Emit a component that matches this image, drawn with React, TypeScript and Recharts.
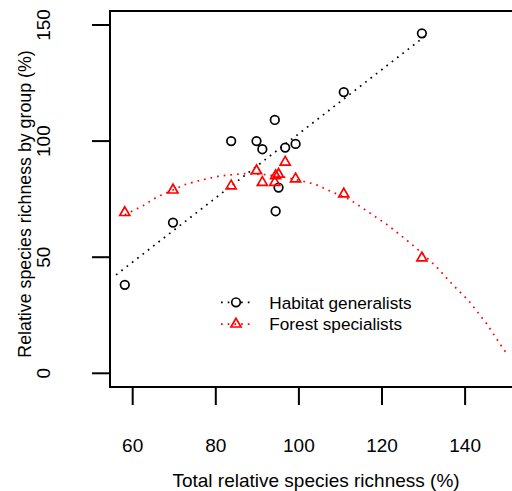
import { ComposedChart, Scatter, XAxis, YAxis, ReferenceArea, Legend, Label } from 'recharts'

// 每个样点的总相对物种丰富度（x），两组共用
const totalRichness = [58.1, 69.7, 83.7, 89.8, 91.2, 94.2, 94.4, 95.1, 96.7, 99.2, 110.8, 129.6]
// 生境广布种（圆圈）
const generalists = [38.1, 64.9, 100.0, 100.0, 96.5, 109.1, 69.8, 80.0, 97.2, 98.8, 121.1, 146.4]
// 森林特化种（三角）
const specialists = [69.2, 78.9, 80.7, 87.2, 82.2, 82.2, 85.1, 85.7, 90.9, 83.7, 77.2, 49.7]

// 广布种的线性拟合线：图上读出的两端
const genFitX = [56.0, 131.1]
const genFitY = [42.4, 146.2]

// 特化种的二次拟合曲线：沿虚线读出的点
const specFitX = [58.1, 59.5, 62.6, 65.8, 72.6, 76.2, 81.0, 85.0, 86.6, 91.8, 97.1, 100.3, 104.1, 107.5, 112.3, 116.7, 121.1, 125.5, 128.4, 133.2, 137.2, 140.8, 145.2, 149.2, 150.0]
const specFitY = [68.3, 69.5, 72.3, 75.9, 81.3, 83.1, 85.0, 85.7, 86.0, 85.6, 84.3, 83.0, 81.3, 78.5, 74.8, 69.5, 64.2, 58.0, 53.7, 45.7, 37.8, 31.4, 21.3, 10.5, 8.6]

const xTicks = [60, 80, 100, 120, 140]
const yTicks = [0, 50, 100, 150]

const X_DOMAIN = [54.54, 153.21]
const Y_DOMAIN = [-5.9, 156.03]

const FONT = '"Liberation Sans", Arial, Helvetica, sans-serif'
const RED = '#FF0000'
const DOTS = '1.7 5'

const genPoints = totalRichness.map((x, i) => ({ x, y: generalists[i] }))
const specPoints = totalRichness.map((x, i) => ({ x, y: specialists[i] }))
const genLine = genFitX.map((x, i) => ({ x, y: genFitY[i] }))
const specLine = specFitX.map((x, i) => ({ x, y: specFitY[i] }))

// R 的 pch=1 空心圆
function CircleMark(p: any) {
  return <circle cx={p.cx} cy={p.cy} r={4.3} fill="none" stroke="#000" strokeWidth={1.7} />
}

// R 的 pch=2 空心三角，(cx, cy) 为重心
function Tri({ cx, cy }: { cx: number; cy: number }) {
  const r = 5.8
  const pts = `${cx},${cy - r} ${cx + 0.866 * r},${cy + r / 2} ${cx - 0.866 * r},${cy + r / 2}`
  return <polygon points={pts} fill="none" stroke={RED} strokeWidth={1.7} />
}

function TriMark(p: any) {
  return <Tri cx={p.cx} cy={p.cy} />
}

function XTick(p: any) {
  return (
    <text x={p.x} y={452} textAnchor="middle" fontSize={19} fontFamily={FONT} fill="#000">
      {p.payload.value}
    </text>
  )
}

function YTick(p: any) {
  const cx = 44
  return (
    <text x={cx} y={p.y} transform={`rotate(-90 ${cx} ${p.y})`} textAnchor="middle" dominantBaseline="central" fontSize={19} fontFamily={FONT} fill="#000">
      {p.payload.value}
    </text>
  )
}

function LegendBox() {
  const rows = [
    { label: 'Habitat generalists', color: '#000', y: 14.3, tri: false },
    { label: 'Forest specialists', color: RED, y: 36.1, tri: true },
  ]
  return (
    <svg width={260} height={50} style={{ display: 'block' }}>
      {rows.map(r => (
        <g key={r.label}>
          <line x1={11} x2={42} y1={r.y} y2={r.y} stroke={r.color} strokeWidth={1.7} strokeDasharray={DOTS} />
          {r.tri ? (
            <Tri cx={26} cy={r.y} />
          ) : (
            <circle cx={26} cy={r.y} r={4.3} fill="#fff" stroke="#000" strokeWidth={1.7} />
          )}
          <text x={59.3} y={r.y + 6.2} fontSize={17.2} fontFamily={FONT} fill="#000">{r.label}</text>
        </g>
      ))}
    </svg>
  )
}

export default function App() {
  return (
    <div style={{ position: 'absolute', left: 0, top: 0, width: 512, height: 491, overflow: 'hidden', background: '#fff' }}>
      <ComposedChart width={530} height={491} margin={{ top: 11, right: 10, bottom: 0, left: 0 }}>
        <XAxis
          type="number"
          dataKey="x"
          domain={X_DOMAIN}
          ticks={xTicks}
          allowDataOverflow
          height={104}
          axisLine={false}
          tickSize={18}
          tickLine={{ stroke: '#000', strokeWidth: 2 }}
          tick={<XTick />}
        >
          <Label
            content={() => (
              <text x={316} y={487} textAnchor="middle" fontSize={19} fontFamily={FONT} fill="#000">
                Total relative species richness (%)
              </text>
            )}
          />
        </XAxis>
        <YAxis
          type="number"
          dataKey="y"
          domain={Y_DOMAIN}
          ticks={yTicks}
          allowDataOverflow
          width={110}
          axisLine={false}
          tickSize={18}
          tickLine={{ stroke: '#000', strokeWidth: 2 }}
          tick={<YTick />}
        >
          <Label
            content={() => (
              <text x={25} y={204} transform="rotate(-90 25 204)" textAnchor="middle" dominantBaseline="central" fontSize={17.8} fontFamily={FONT} fill="#000">
                Relative species richness by group (%)
              </text>
            )}
          />
        </YAxis>
        <ReferenceArea x1={X_DOMAIN[0]} x2={X_DOMAIN[1]} y1={Y_DOMAIN[0]} y2={Y_DOMAIN[1]} fill="none" stroke="#000" strokeWidth={2} />
        <Scatter data={genLine} line={{ stroke: '#000', strokeWidth: 1.7, strokeDasharray: DOTS }} shape={() => <g />} isAnimationActive={false} />
        <Scatter data={specLine} line={{ stroke: RED, strokeWidth: 1.7, strokeDasharray: DOTS }} shape={() => <g />} isAnimationActive={false} />
        <Scatter data={genPoints} shape={CircleMark} isAnimationActive={false} />
        <Scatter data={specPoints} shape={TriMark} isAnimationActive={false} />
        <Legend
          layout="horizontal"
          verticalAlign="middle"
          align="center"
          content={() => <LegendBox />}
          wrapperStyle={{ left: 210, top: 288, width: 260, height: 50 }}
        />
      </ComposedChart>
    </div>
  )
}
